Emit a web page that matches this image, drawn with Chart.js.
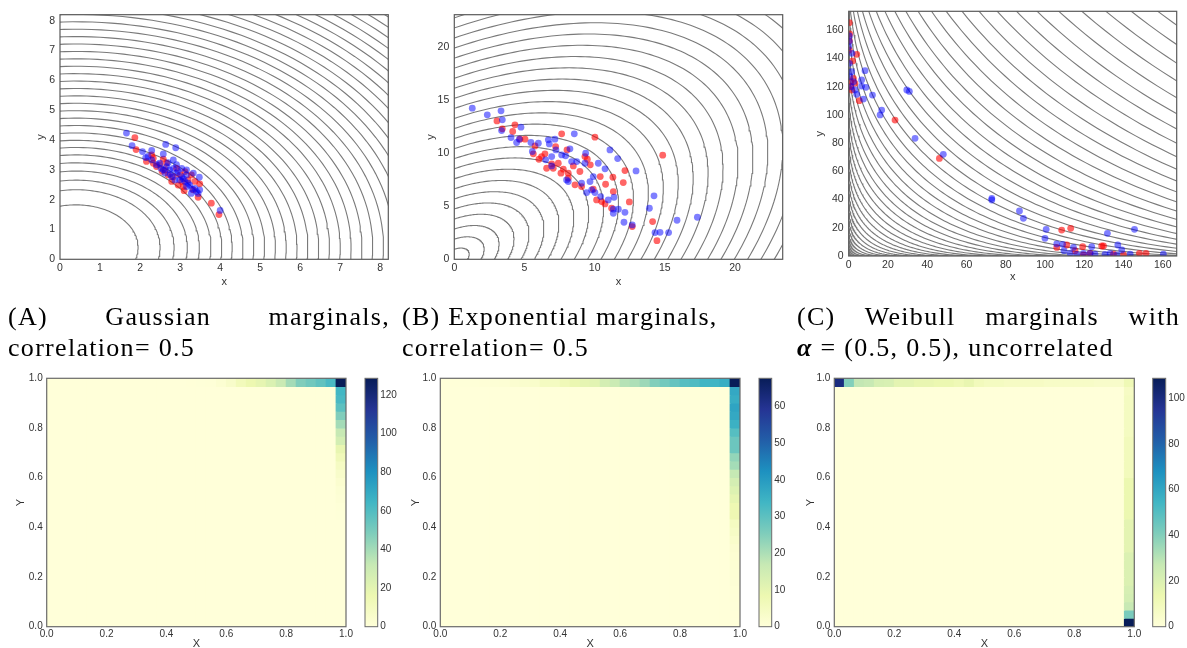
<!DOCTYPE html>
<html>
<head>
<meta charset="utf-8">
<script src="https://cdn.jsdelivr.net/npm/chart.js@4.4.0/dist/chart.umd.min.js"></script>
<style>
  body { margin: 0; width: 1187px; height: 648px; background: #fff; position: relative; overflow: hidden; }
  canvas { position: absolute; left: 0; top: 0; }
  .cap { position: absolute; font-family: "Liberation Serif", "Times New Roman", serif; font-size: 26px;
         line-height: 31px; letter-spacing: 1.3px; color: #000; white-space: nowrap; }
  .cap .j { text-align: justify; text-align-last: justify; }
</style>
</head>
<body>
<canvas id="scA" width="1187" height="648"></canvas>
<canvas id="scB" width="1187" height="648"></canvas>
<canvas id="scC" width="1187" height="648"></canvas>
<canvas id="hmA" width="1187" height="648"></canvas>
<canvas id="hmB" width="1187" height="648"></canvas>
<canvas id="hmC" width="1187" height="648"></canvas>
<canvas id="cbA" width="1187" height="648"></canvas>
<canvas id="cbB" width="1187" height="648"></canvas>
<canvas id="cbC" width="1187" height="648"></canvas>

<div class="cap" style="left:8px;top:301px;width:382px;">
  <div class="j">(A) Gaussian marginals,</div>
  <div>correlation= 0.5</div>
</div>
<div class="cap" style="left:402px;top:301px;">
  <div>(B) Exponential marginals,</div>
  <div>correlation= 0.5</div>
</div>
<div class="cap" style="left:797px;top:301px;width:383px;">
  <div class="j">(C) Weibull marginals with</div>
  <div><b><i>α</i></b> = (0.5, 0.5), uncorrelated</div>
</div>

<script>
// ---------- tick labels ----------
const ticksA = [0, 1, 2, 3, 4, 5, 6, 7, 8];
const ticksB = [0, 5, 10, 15, 20];
const ticksC = [0, 20, 40, 60, 80, 100, 120, 140, 160];
const ticksUnit = [0, 0.2, 0.4, 0.6, 0.8, 1.0];
const cbTicksA = [0, 20, 40, 60, 80, 100, 120];
const cbTicksB = [0, 10, 20, 30, 40, 50, 60];
const cbTicksC = [0, 20, 40, 60, 80, 100];

// ---------- samples (x, y) ----------
const blueA = [[1.66,4.23],[1.80,3.81],[2.06,3.61],[2.29,3.65],[2.64,3.85],[2.89,3.74],[2.58,3.53],[2.14,3.41],
  [2.83,3.33],[4.00,1.64],[3.49,2.33],[3.48,2.75],[2.49,3.22],[2.70,3.24],[2.91,3.17],[3.04,3.05],[3.16,3.00],
  [2.74,3.00],[2.91,2.89],[3.04,2.77],[3.12,2.61],[3.24,2.49],[3.37,2.38],[3.28,2.21],[3.45,2.21],[2.66,3.11],
  [2.83,3.05],[2.99,2.66],[3.16,2.83],[3.33,2.89],[2.29,3.33],[2.41,3.17],[2.58,3.00],[2.62,2.89],[2.79,2.77],
  [2.87,2.66],[3.16,2.44],[3.41,2.27],[2.20,3.45],[2.95,2.95],[3.08,2.70],[2.52,3.05],[2.75,2.85],[3.20,2.55],[3.30,2.35]];
const redA = [[1.87,4.08],[1.90,3.68],[2.29,3.50],[2.16,3.28],[2.33,3.22],[2.41,3.11],[2.58,3.36],[2.62,3.00],
  [2.83,2.77],[3.04,2.61],[3.08,2.44],[3.28,2.83],[3.37,2.61],[3.49,2.53],[3.45,2.08],[3.78,1.88],[3.97,1.50],
  [3.12,2.94],[2.79,2.61],[2.49,3.17],[2.91,3.05],[3.20,2.66],[2.66,3.22],[3.00,2.83],[3.33,2.33],[2.95,2.49],
  [2.33,3.39],[2.70,2.83],[2.55,2.95],[3.10,2.30]];

const blueB = [[1.28,14.27],[2.35,13.64],[3.33,14.02],[3.42,13.17],[3.37,12.16],[4.75,12.48],[4.04,11.5],[4.44,11.03],
  [4.63,11.34],[5.46,11.03],[5.56,10.18],[6.70,11.28],[6.77,10.9],[7.17,11.34],[7.24,10.33],[6.94,9.7],[6.51,9.39],
  [6.94,8.82],[7.65,9.86],[7.93,9.77],[8.24,10.43],[8.55,11.85],[8.36,9.23],[8.0,7.5],[8.12,7.34],[8.72,9.23],
  [9.36,10.02],[9.31,9.07],[9.07,7.18],[9.67,7.34],[9.9,7.81],[9.43,6.3],[9.79,6.55],[10.02,6.3],[10.26,9.07],
  [10.74,8.54],[10.43,5.92],[10.97,5.61],[11.09,10.33],[11.64,9.51],[11.38,5.86],[11.33,4.73],[11.33,4.35],
  [12.16,4.44],[12.09,3.5],[12.68,3.25],[12.95,8.35],[13.9,4.82],[14.23,5.99],[14.3,2.52],[14.66,2.55],
  [15.27,2.52],[15.87,3.69],[17.32,3.97],[11.69,4.73],[5.99,10.96]];
const redB = [[3.04,13.07],[3.42,12.32],[4.32,12.7],[4.16,12.07],[4.68,11.34],[5.04,11.34],[5.75,10.71],[5.63,9.96],
  [6.03,9.45],[6.46,9.96],[7.22,10.65],[7.65,11.85],[8.03,10.33],[7.05,8.6],[7.41,9.07],[7.6,8.13],[7.77,8.51],
  [8.12,8.13],[8.48,8.82],[8.95,8.29],[9.31,9.7],[9.48,9.45],[9.69,8.92],[10.02,11.53],[10.4,7.81],[10.5,5.45],
  [10.14,5.61],[10.74,5.23],[10.78,7.09],[11.3,7.75],[12.04,7.25],[12.16,8.38],[12.47,5.42],[12.68,3.09],
  [14.13,3.56],[14.44,1.76],[14.85,9.83],[8.6,7.03],[9.07,6.87],[9.9,6.62],[8.12,7.66],[6.58,8.6],[6.94,9.01],
  [6.22,9.7],[11.33,6.4],[11.21,4.82]];

const blueC = [[0.3,156],[0.3,136.6],[1.7,143.7],[1.5,130.7],[0.7,127.1],[2.4,123.6],[1.2,120],[3.2,117.7],
  [4.1,114.6],[6.6,124.8],[6.6,120.5],[8.3,131.4],[8.8,119.6],[7.5,111.3],[12.1,114.1],[16,100],[16.8,103.5],
  [29.6,117.7],[30.9,116.7],[33.8,83.4],[48.2,72.1],[72.9,40.9],[72.9,39.7],[87,31.9],[89,26.7],[100.6,18.9],
  [100,12.5],[106,8.5],[109,8.3],[109.7,3.8],[114.5,6.1],[112.8,1.9],[116.2,1.2],[119.6,1.9],[123.8,6.6],
  [125.5,1.4],[131.8,16.1],[137.1,7.8],[139.1,4.3],[143.4,1.4],[145.6,18.9],[160.3,1.4],[122.9,1.9],[130.6,1.2],
  [133.2,1.9],[136.6,0.7],[0.3,152],[0,148.4]];
const redC = [[0.3,165.4],[0.3,152.6],[0.5,157.4],[2.0,138.3],[4.1,143],[2.4,126],[1.0,123.6],[1.5,117.7],
  [5.4,110.1],[3.2,122.4],[23.6,96.4],[46.2,69.2],[108.5,18.4],[113.1,19.6],[106,6.1],[111.1,7.8],[119.2,6.6],
  [128.9,7.1],[129.8,7.1],[115.3,3.8],[123,1.9],[148.1,1.9],[151.5,1.9],[134.9,1.4],[140,0.7],[119.6,0.7],
  [0.7,120.5],[0.3,146]];

// ---------- contour levels ----------
// A: x semi-axis of each ellipse, B: axis crossing radius of each tilted ellipse, C: sqrt(x)+sqrt(y) level
const levelsA = [1.55,2.1,2.45,2.78,3.08,3.37,3.64,3.9,4.17,4.44,4.71,4.98,5.25,5.52,5.79,6.06,6.33,6.6,
  6.87,7.14,7.41,7.68,7.95,8.22,8.49,8.76,9.03,9.3,9.57,9.84,10.11,10.38,10.65,10.92,11.19,11.46];
const levelsB = [0.95,1.9,2.85,3.8,4.75,5.7,6.65,7.6,8.55,9.5,10.45,11.4,12.35,13.3,14.25,15.2,16.15,17.1,
  18.05,19,19.95,20.9,21.85,22.8,23.75,24.7,25.65,26.6,27.55,28.5,29.45,30.4,31.35];
const levelsC = [0.42,0.97,1.52,2.07,2.62,3.17,3.72,4.27,4.82,5.37,5.92,6.47,7.02,7.57,8.12,8.67,9.22,9.77,
  10.32,10.87,11.42,11.97,12.52,13.07,13.62,14.17,14.72,15.27,15.82,16.37,16.92,17.47,18.02,18.57,19.12,
  19.67,20.22,20.77,21.32,21.87,22.42,22.97,23.52,24.07,24.62,25.17,25.72];
const centerA = [0.4, 0.4], ratioA = 0.92, rhoB = 0.45;

// ---------- heatmap cells: top row (left->right) and right column (bottom->top) ----------
const cbMaxA = 128.7, cbMaxB = 67.7, cbMaxC = 108.8;
const heatTopA = [0,0,0,0,0,0,0,0,0,0,0,0,0,0,0.3,0.6,1,3,6,12,16,19,24,31,40,48,52,56,62,128.7];
const heatRightA = [0,0,0,0,0,0,0,0,0,0,0,0,0,0.5,1,1.5,2.5,4,6,9,13,18,27,32,40,48,57,62,64,128.7];
const heatTopB = [0,0.2,0.3,0.5,0.7,0.8,1,2,2.5,3,5,5,7,9,10,11,14,16,19,20,22,25,27,29,31,32,34,34,36,67.7];
const heatRightB = [0.1,0.2,0.3,0.4,0.6,0.8,1,1.2,1.5,2,3,4,5,8,8,10,12,14,17,21,23,28,28,31,35,37,38,36,37,67.7];
const heatTopC = [100,40,28,27,22,21,17,17,15,15,14,14,12,15,10,8,8,7,7,7,7,6,6,6,6,6,5,5,5,12];
const heatRightC = [108.8,42,27,23,22,20,20,20,20,17,17,17,17,14,14,14,14,14,10,10,10,10,10,8,8,8,8,8,7,12];
const GRID = 30;

// ---------- look ----------
const W = 1187, H = 648;
const BLUE = "rgba(0,0,255,0.5)";
const RED = "rgba(255,0,0,0.6)";
const CONTOUR = "#7a7a7a";
const YLGNBU = [[255,255,217],[237,248,177],[199,233,180],[127,205,187],[65,182,196],
  [29,145,192],[34,94,168],[37,52,148],[8,29,88]];

Chart.defaults.font.family = '"Liberation Sans", Arial, sans-serif';
Chart.defaults.color = "#333";
Chart.defaults.animation = false;
Chart.defaults.events = [];
Chart.defaults.plugins.legend.display = false;
Chart.defaults.plugins.tooltip.enabled = false;

function cmap(t) {
  t = Math.max(0, Math.min(1, t));
  const p = t * 8, i = Math.min(7, Math.floor(p)), f = p - i;
  const a = YLGNBU[i], b = YLGNBU[i + 1];
  return "rgb(" + a.map((v, k) => Math.round(v + (b[k] - v) * f)).join(",") + ")";
}

// box around the plot area
const frame = {
  id: "frame",
  afterDatasetsDraw(chart, args, o) {
    const a = chart.chartArea, ctx = chart.ctx;
    ctx.save();
    ctx.strokeStyle = o.color || "#606060";
    ctx.lineWidth = o.width || 1;
    ctx.strokeRect(a.left, a.top, a.right - a.left, a.bottom - a.top);
    ctx.restore();
  }
};

// fixed-size axes so the plot area sits where the reference has it
function layoutFor(area, yw, xh, right) {
  return { padding: { left: area[0] - yw, top: area[1], right: W - area[2] - (right || 0), bottom: H - area[3] - xh } };
}

function makeAxis(o) {
  const lh = 11 * 1.2;
  let tpad = 0;
  if (o.title && o.pos === "bottom") tpad = o.boxEnd - o.titleAt - lh / 2;
  if (o.title && o.pos === "left") tpad = o.titleAt - o.boxEnd - lh / 2;
  return {
    type: "linear", min: o.min, max: o.max, position: o.pos, bounds: "data", offset: false,
    grid: { display: false, drawTicks: false, offset: false },
    border: { display: false },
    afterBuildTicks: s => { s.ticks = o.ticks.map(v => ({ value: v })); },
    afterFit: s => { if (o.pos === "bottom") s.height = o.size; else s.width = o.size; },
    ticks: { padding: o.pad, font: { size: o.fs }, color: "#333", maxRotation: 0, autoSkip: false,
             callback: o.fmt || (v => String(v)) },
    title: o.title
      ? { display: true, text: o.title, font: { size: 11 }, color: "#333",
          padding: o.pos === "bottom" ? { top: 0, bottom: tpad } : { top: tpad, bottom: 0 } }
      : { display: false }
  };
}

const pts = arr => arr.map(p => ({ x: p[0], y: p[1] }));

function curveA(a) {
  const out = [];
  for (let k = 0; k <= 160; k++) {
    const t = -Math.PI / 2 + Math.PI * 1.5 * k / 160;
    out.push({ x: centerA[0] + a * Math.cos(t), y: centerA[1] + ratioA * a * Math.sin(t) });
  }
  return out;
}
function curveB(r) {
  const out = [], su = r / Math.sqrt(1 - rhoB), sv = r / Math.sqrt(1 + rhoB);
  for (let k = 0; k <= 160; k++) {
    const t = -Math.PI / 2 + Math.PI * k / 160;
    const u = su * Math.cos(t), v = sv * Math.sin(t);
    out.push({ x: (u - v) / Math.SQRT2, y: (u + v) / Math.SQRT2 });
  }
  return out;
}
function curveC(c) {
  const out = [];
  for (let k = 0; k <= 120; k++) {
    const s = c * k / 120;
    out.push({ x: s * s, y: (c - s) * (c - s) });
  }
  return out;
}

function scatterChart(id, p) {
  const datasets = p.curves.map(c => ({
    data: c, showLine: true, pointRadius: 0, borderColor: CONTOUR, borderWidth: 1.1, order: 3
  }));
  datasets.push({ data: pts(p.red), backgroundColor: RED, borderWidth: 0, pointRadius: 3.4, pointBorderWidth: 0, order: 2 });
  datasets.push({ data: pts(p.blue), backgroundColor: BLUE, borderWidth: 0, pointRadius: 3.4, pointBorderWidth: 0, order: 1 });
  const a = p.area, yw = 40, xh = 30;
  new Chart(document.getElementById(id), {
    type: "scatter",
    data: { datasets },
    options: {
      responsive: false,
      layout: layoutFor(a, yw, xh),
      scales: {
        x: makeAxis({ pos: "bottom", min: 0, max: p.xMax, ticks: p.ticks, size: xh, pad: 3, fs: 10.5,
                      title: "x", titleAt: p.xTitleY, boxEnd: a[3] + xh }),
        y: makeAxis({ pos: "left", min: 0, max: p.yMax, ticks: p.ticks, size: yw, pad: 5, fs: 10.5,
                      title: "y", titleAt: p.yTitleX, boxEnd: a[0] - yw })
      },
      plugins: { frame: { color: "#5a5a5a", width: 1.2 } }
    },
    plugins: [frame]
  });
}

function heatChart(id, p) {
  const cells = [];
  for (let j = 0; j < GRID; j++) {
    for (let i = 0; i < GRID; i++) {
      let v = 0;
      if (j === GRID - 1) v = p.top[i];
      else if (i === GRID - 1) v = p.right[j];
      cells.push({ x: (i + 0.5) / GRID, y: [j / GRID, (j + 1) / GRID], v });
    }
  }
  const a = p.area, yw = 40, xh = H - a[3];
  const fmt = v => v.toFixed(1);
  new Chart(document.getElementById(id), {
    type: "bar",
    data: { datasets: [{
      data: cells, borderWidth: 0, barPercentage: 1, categoryPercentage: 1, inflateAmount: 0.4,
      backgroundColor: c => (c.raw ? cmap(c.raw.v / p.max) : "#ffffd9")
    }] },
    options: {
      responsive: false,
      layout: layoutFor(a, yw, xh),
      scales: {
        x: makeAxis({ pos: "bottom", min: 0, max: 1, ticks: ticksUnit, size: xh, pad: 1.5, fs: 10, fmt,
                      title: "X", titleAt: 644, boxEnd: a[3] + xh }),
        y: makeAxis({ pos: "left", min: 0, max: 1, ticks: ticksUnit, size: yw, pad: 4, fs: 10, fmt,
                      title: "Y", titleAt: p.yTitleX, boxEnd: a[0] - yw })
      },
      plugins: { frame: { color: "#6a6a6a", width: 1.2 } }
    },
    plugins: [frame]
  });
}

function colorbarChart(id, p) {
  const a = p.area, rw = 20;
  new Chart(document.getElementById(id), {
    type: "bar",
    data: { labels: ["cb"], datasets: [{
      data: [[0, p.max]], borderWidth: 0, barPercentage: 1, categoryPercentage: 1, inflateAmount: 0,
      backgroundColor: c => {
        const ca = c.chart.chartArea;
        if (!ca) return "#ffffd9";
        const g = c.chart.ctx.createLinearGradient(0, ca.bottom, 0, ca.top);
        YLGNBU.forEach((col, k) => g.addColorStop(k / 8, "rgb(" + col.join(",") + ")"));
        return g;
      }
    }] },
    options: {
      responsive: false,
      layout: { padding: { left: a[0], top: a[1], right: W - a[2] - rw, bottom: H - a[3] } },
      scales: {
        x: { display: false },
        y: makeAxis({ pos: "right", min: 0, max: p.max, ticks: p.ticks, size: rw, pad: 2.5, fs: 10 })
      },
      plugins: { frame: { color: "#6a6a6a", width: 1 } }
    },
    plugins: [frame]
  });
}

scatterChart("scA", { area: [60, 14.7, 388.3, 259.3], xMax: 8.2, yMax: 8.2, ticks: ticksA,
  curves: levelsA.map(curveA), red: redA, blue: blueA, xTitleY: 281.7, yTitleX: 41 });
scatterChart("scB", { area: [454.3, 14.7, 782.7, 259.3], xMax: 23.4, yMax: 23.1, ticks: ticksB,
  curves: levelsB.map(curveB), red: redB, blue: blueB, xTitleY: 281.7, yTitleX: 431 });
scatterChart("scC", { area: [848.7, 11.3, 1176.7, 256], xMax: 167.1, yMax: 173.5, ticks: ticksC,
  curves: levelsC.map(curveC), red: redC, blue: blueC, xTitleY: 276.7, yTitleX: 820 });

heatChart("hmA", { area: [46.7, 378.3, 346, 626.7], top: heatTopA, right: heatRightA, max: cbMaxA, yTitleX: 21 });
heatChart("hmB", { area: [440.3, 378.3, 740, 626.7], top: heatTopB, right: heatRightB, max: cbMaxB, yTitleX: 416 });
heatChart("hmC", { area: [834.3, 378.3, 1134.3, 626.7], top: heatTopC, right: heatRightC, max: cbMaxC, yTitleX: 811 });

colorbarChart("cbA", { area: [365, 378.3, 377.7, 626.7], max: cbMaxA, ticks: cbTicksA });
colorbarChart("cbB", { area: [759, 378.3, 771.7, 626.7], max: cbMaxB, ticks: cbTicksB });
colorbarChart("cbC", { area: [1152.7, 378.3, 1165.7, 626.7], max: cbMaxC, ticks: cbTicksC });
</script>
</body>
</html>
